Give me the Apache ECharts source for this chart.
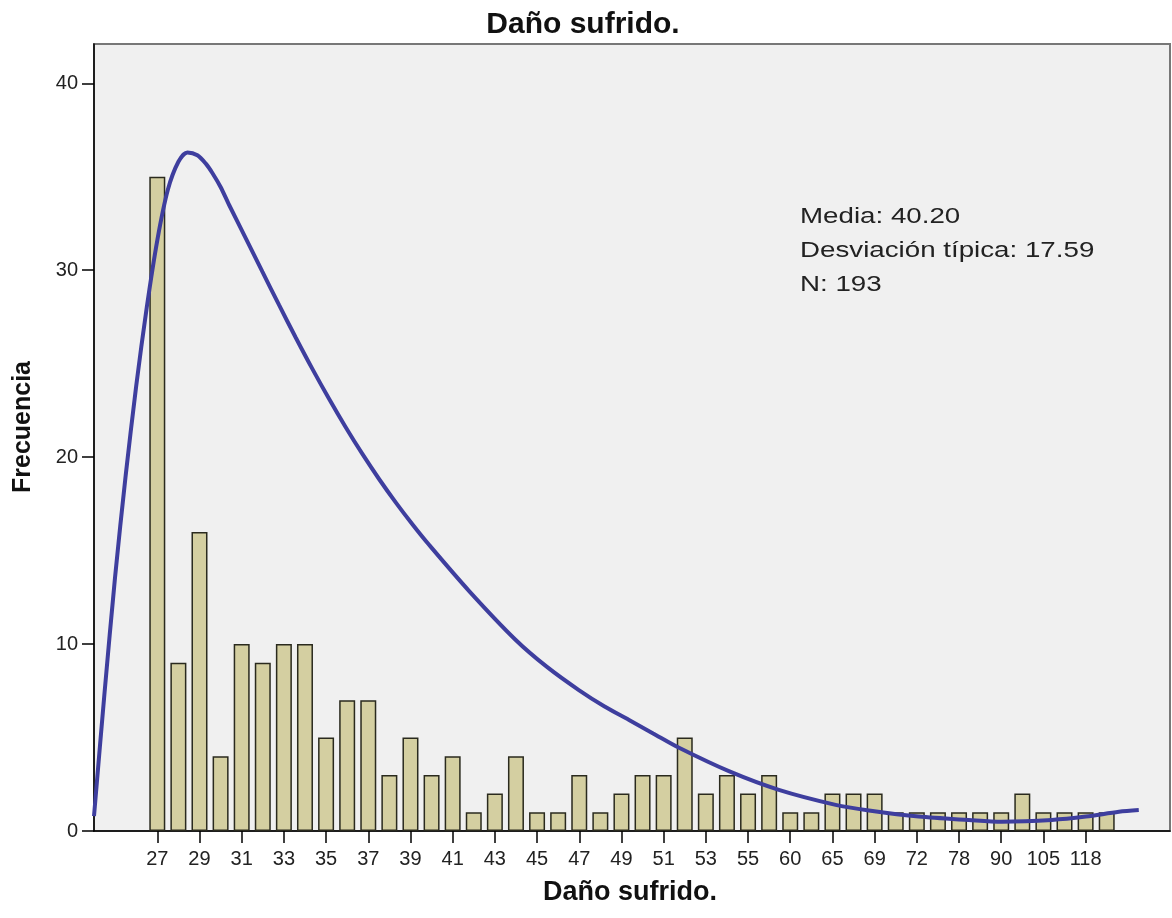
<!DOCTYPE html>
<html>
<head>
<meta charset="utf-8">
<title>Daño sufrido.</title>
<script src="https://cdn.jsdelivr.net/npm/echarts@6/dist/echarts.min.js"></script>
<style>
  html, body { margin: 0; padding: 0; background: #ffffff; }
  #chart { width: 1172px; height: 918px; }
</style>
</head>
<body>
<div id="chart"></div>
<script>
// Observed values of "Daño sufrido." (one bar per distinct value)
const values = [27, 28, 29, 30, 31, 32, 33, 34, 35, 36, 37, 38, 39, 40, 41, 42, 43, 44, 45, 46,
                47, 48, 49, 50, 51, 52, 53, 54, 55, 56, 60, 62, 65, 66, 69, 70, 72, 75, 78, 80,
                90, 100, 105, 110, 118, 120];
// Frequency of each value
const counts = [35, 9, 16, 4, 10, 9, 10, 10, 5, 7, 7, 3, 5, 3, 4, 1, 2, 4, 1, 1,
                3, 1, 2, 3, 3, 5, 2, 3, 2, 3, 1, 1, 2, 2, 2, 1, 1, 1, 1, 1,
                1, 2, 1, 1, 1, 1];
// Labels shown under every other bar
const tickLabels = ['27', '29', '31', '33', '35', '37', '39', '41', '43', '45', '47', '49', '51',
                    '53', '55', '60', '65', '69', '72', '78', '90', '105', '118'];
// Fitted curve, in bar-position units (x) and frequency (y)
const curveX = [-3.0, -2.5, -2.0, -1.5, -1.0, -0.5, 0.0, 0.5, 1.0, 1.43, 1.9, 2.3, 2.61, 3.0,
                3.4, 4.19, 4.98, 5.77, 6.56, 7.35, 8.14, 8.93, 9.72, 10.51, 11.30, 12.09, 12.88,
                14.77, 16.99, 18.5, 19.98, 21.2, 22.36, 23.5, 24.73, 27.09, 29.46, 32.15, 33.73, 36.09,
                38.46, 40.03, 42.40, 44.01, 45.58, 46.52];
const curveY = [0.8, 7.4, 13.6, 19.0, 23.8, 28.0, 31.6, 34.3, 35.8, 36.3, 36.15, 35.7, 35.2, 34.45,
                33.5, 31.72, 29.92, 28.14, 26.40, 24.72, 23.12, 21.60, 20.17, 18.83, 17.58, 16.41, 15.31,
                12.85, 10.22, 8.75, 7.54, 6.66, 5.94, 5.22, 4.45, 3.20, 2.20, 1.40, 1.10, 0.77,
                0.59, 0.50, 0.59, 0.77, 1.03, 1.12];
const statsLines = ['Media: 40.20', 'Desviación típica: 17.59', 'N: 193'];
const yTicks = [0, 10, 20, 30, 40];

const FONT = '"Liberation Sans", Arial, sans-serif';
const barData = counts.map((c, i) => [i, c]);
const curveData = curveX.map((x, i) => [x, curveY[i]]);
const labelPositions = tickLabels.map((_, k) => k * 2);

const chart = echarts.init(document.getElementById('chart'), null, { renderer: 'canvas' });
chart.setOption({
  animation: false,
  backgroundColor: '#ffffff',
  grid: {
    left: 94, top: 44, right: 2, bottom: 87,
    show: true,
    backgroundColor: '#f0f0f0',
    borderColor: '#777777',
    borderWidth: 2
  },
  xAxis: {
    type: 'value',
    min: -3,
    max: 48,
    splitLine: { show: false },
    axisLine: { show: true, onZero: false, lineStyle: { color: '#000000', width: 1.5 } },
    axisTick: {
      show: true, length: 12, customValues: labelPositions,
      lineStyle: { color: '#000000', width: 1.5 }
    },
    axisLabel: {
      customValues: labelPositions,
      margin: 18,
      fontFamily: FONT, fontSize: 20, color: '#222222',
      formatter: v => tickLabels[Math.round(v / 2)] || ''
    }
  },
  yAxis: {
    type: 'value',
    min: 0,
    max: 42.1,
    splitLine: { show: false },
    axisLine: { show: true, onZero: false, lineStyle: { color: '#000000', width: 1.5 } },
    axisTick: {
      show: true, length: 12, customValues: yTicks,
      lineStyle: { color: '#000000', width: 1.5 }
    },
    axisLabel: {
      customValues: yTicks,
      margin: 16,
      fontFamily: FONT, fontSize: 20, color: '#222222'
    }
  },
  series: [
    {
      type: 'bar',
      data: barData,
      barWidth: 16,
      itemStyle: { color: '#d4cfa1', borderColor: '#2a2a1e', borderWidth: 1.5 },
      z: 2
    },
    {
      type: 'line',
      data: curveData,
      smooth: 0.3,
      showSymbol: false,
      lineStyle: { color: '#3e3e9e', width: 4 },
      z: 3
    }
  ],
  graphic: [
    {
      type: 'text', x: 583, y: 25,
      style: {
        text: 'Daño sufrido.', font: 'bold 30px ' + FONT, fill: '#111111',
        textAlign: 'center', textVerticalAlign: 'middle'
      }
    },
    {
      type: 'text', x: 630, y: 893,
      style: {
        text: 'Daño sufrido.', font: 'bold 27px ' + FONT, fill: '#111111',
        textAlign: 'center', textVerticalAlign: 'middle'
      }
    },
    {
      type: 'text', x: 23, y: 427, rotation: Math.PI / 2,
      style: {
        text: 'Frecuencia', font: 'bold 25px ' + FONT, fill: '#111111',
        textAlign: 'center', textVerticalAlign: 'middle'
      }
    },
    {
      type: 'text', x: 800, y: 200, scaleX: 1.26,
      style: {
        text: statsLines.join('\n'), font: '22px ' + FONT, fill: '#222222',
        lineHeight: 34, textAlign: 'left', textVerticalAlign: 'top'
      }
    }
  ]
});
</script>
</body>
</html>
